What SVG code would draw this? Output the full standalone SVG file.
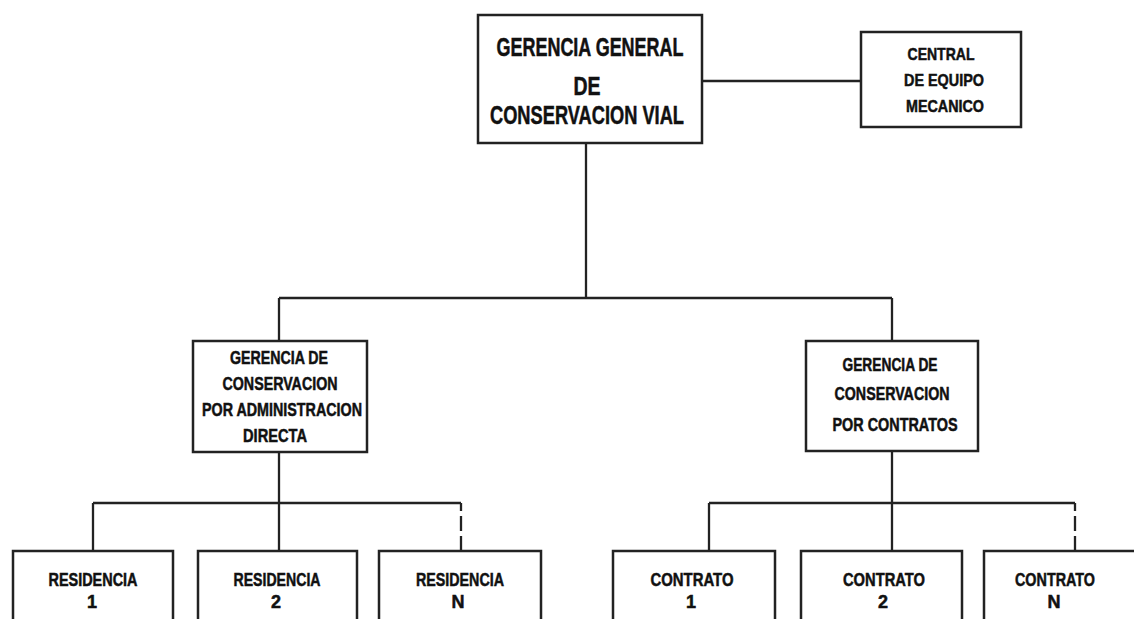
<svg xmlns="http://www.w3.org/2000/svg" width="1134" height="619" viewBox="0 0 1134 619">
<style>
.box{fill:#fff;stroke:#222;stroke-width:2.5}
.ln{fill:none;stroke:#222;stroke-width:2.3}
.dash{stroke-dasharray:8 5 15 5 20}
text{font-family:"Liberation Sans",Arial,sans-serif;font-weight:bold;fill:#111;stroke:#111;stroke-width:0.5;text-anchor:middle}
.t1{font-size:25px}
.t2{font-size:17px}
.t3{font-size:18px}
</style>
<rect width="1134" height="619" fill="#fff"/>
<g id="connectors">
<path class="ln" d="M702 81H861"/>
<path class="ln" d="M586 143V298M279 298H892M279 298V341M892 298V341"/>
<path class="ln" d="M279 452V503M93 503H461M93 503V551M279 503V551"/>
<path class="ln dash" d="M461 503V551"/>
<path class="ln" d="M892 451V503M709 503H1075M709 503V551M892 503V551"/>
<path class="ln dash" d="M1075 503V551"/>
</g>
<g id="gerencia-general">
<rect class="box" x="478" y="15" width="224" height="128"/>
<text class="t1" x="590" y="56" textLength="187" lengthAdjust="spacingAndGlyphs">GERENCIA GENERAL</text>
<text class="t1" x="587" y="95" textLength="27" lengthAdjust="spacingAndGlyphs">DE</text>
<text class="t1" x="587" y="124" textLength="194" lengthAdjust="spacingAndGlyphs">CONSERVACION VIAL</text>
</g>
<g id="central-equipo">
<rect class="box" x="861" y="32" width="160" height="95"/>
<text class="t2" x="941" y="60" textLength="67" lengthAdjust="spacingAndGlyphs">CENTRAL</text>
<text class="t2" x="944" y="86" textLength="80" lengthAdjust="spacingAndGlyphs">DE EQUIPO</text>
<text class="t2" x="945" y="112" textLength="78" lengthAdjust="spacingAndGlyphs">MECANICO</text>
</g>
<g id="gerencia-admin">
<rect class="box" x="193" y="341" width="174" height="111"/>
<text class="t3" x="279" y="364" textLength="98" lengthAdjust="spacingAndGlyphs">GERENCIA DE</text>
<text class="t3" x="280" y="390" textLength="115" lengthAdjust="spacingAndGlyphs">CONSERVACION</text>
<text class="t3" x="282" y="416" textLength="160" lengthAdjust="spacingAndGlyphs">POR ADMINISTRACION</text>
<text class="t3" x="275" y="442" textLength="64" lengthAdjust="spacingAndGlyphs">DIRECTA</text>
</g>
<g id="gerencia-contratos">
<rect class="box" x="806" y="341" width="172" height="110"/>
<text class="t3" x="890" y="371" textLength="95" lengthAdjust="spacingAndGlyphs">GERENCIA DE</text>
<text class="t3" x="892" y="400" textLength="115" lengthAdjust="spacingAndGlyphs">CONSERVACION</text>
<text class="t3" x="895" y="431" textLength="125" lengthAdjust="spacingAndGlyphs">POR CONTRATOS</text>
</g>
<g id="residencia-1">
<rect class="box" x="13" y="551" width="160" height="100"/>
<text class="t3" x="93" y="586" textLength="89" lengthAdjust="spacingAndGlyphs">RESIDENCIA</text>
<text class="t3" x="92" y="608">1</text>
</g>
<g id="residencia-2">
<rect class="box" x="198" y="551" width="159" height="100"/>
<text class="t3" x="277" y="586" textLength="87" lengthAdjust="spacingAndGlyphs">RESIDENCIA</text>
<text class="t3" x="276" y="608">2</text>
</g>
<g id="residencia-n">
<rect class="box" x="379" y="551" width="162" height="100"/>
<text class="t3" x="460" y="586" textLength="88" lengthAdjust="spacingAndGlyphs">RESIDENCIA</text>
<text class="t3" x="458" y="608">N</text>
</g>
<g id="contrato-1">
<rect class="box" x="613" y="551" width="162" height="100"/>
<text class="t3" x="692" y="586" textLength="83" lengthAdjust="spacingAndGlyphs">CONTRATO</text>
<text class="t3" x="691" y="608">1</text>
</g>
<g id="contrato-2">
<rect class="box" x="801" y="551" width="161" height="100"/>
<text class="t3" x="884" y="586" textLength="82" lengthAdjust="spacingAndGlyphs">CONTRATO</text>
<text class="t3" x="883" y="608">2</text>
</g>
<g id="contrato-n">
<rect class="box" x="984" y="551" width="200" height="100"/>
<text class="t3" x="1055" y="586" textLength="80" lengthAdjust="spacingAndGlyphs">CONTRATO</text>
<text class="t3" x="1054" y="608">N</text>
</g>
</svg>
